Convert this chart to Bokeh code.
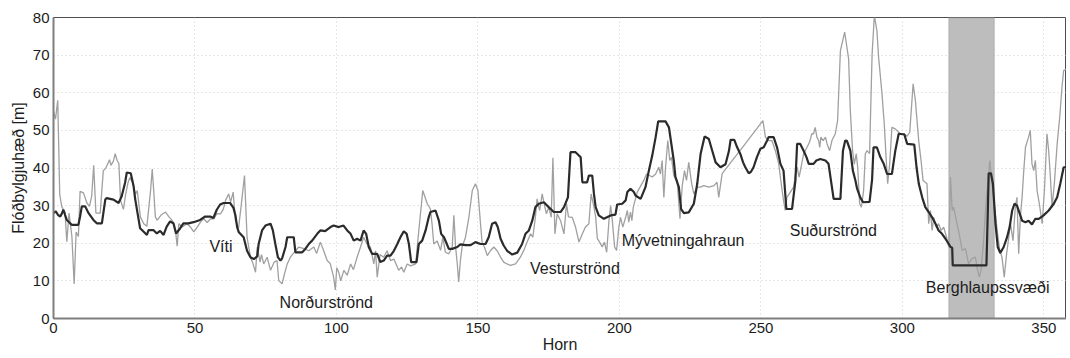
from bokeh.plotting import figure
from bokeh.models import BoxAnnotation, Range1d, FixedTicker
from bokeh.core.properties import value
from bokeh.embed import file_html
from bokeh.resources import INLINE

# ---------------- data ----------------
raw_angle = [
    0, 0.7, 1.5, 2.2, 2.9, 4.1, 4.7, 5.5, 6.5, 7.3,
    8, 8.8, 9.4, 10.6, 11.8, 12.7, 13.5, 14.2, 15, 16.5,
    17.6, 18.5, 19.8, 20.3, 21.2, 21.8, 22.5, 23.1, 23.7, 24.7,
    25.5, 26.3, 27, 28, 29, 29.6, 30.7, 31.9, 33, 34.3,
    34.9, 35.5, 36, 36.6, 38, 39.6, 40.8, 42, 43.1, 43.7,
    44.3, 45.5, 47.2, 48.4, 49.6, 50.8, 52, 53.1, 54.3, 55.5,
    56.7, 57.8, 59, 60, 60.8, 61.9, 62.6, 63.5, 64.3, 65.4,
    66.3, 67.5, 68.4, 69.6, 70.5, 71.4, 72, 73, 73.5, 74.3,
    75.5, 76.7, 78, 79, 79.6, 80.8, 81.5, 82.6, 83.7, 85,
    86.7, 88.5, 90.2, 92, 93, 94.3, 95.5, 96.7, 97.8, 99,
    99.6, 100.1, 100.8, 101.5, 102.6, 103.8, 105, 106, 107.3, 108.5,
    109.6, 110.8, 112, 113.2, 113.8, 114.4, 115.4, 116.7, 117.9, 119.1,
    120.3, 122, 123, 123.8, 125, 126.2, 128, 129.1, 130.5, 132.1,
    133.2, 133.8, 134.4, 135.6, 136.8, 137.6, 138.5, 139.7, 140.9, 141.5,
    142.1, 142.7, 143.2, 143.8, 144.4, 145.6, 146.8, 148, 149.1, 150,
    150.9, 151.5, 152.3, 153.3, 154.4, 155.6, 156.8, 158, 159.1, 160.3,
    161.5, 163.3, 165, 166.2, 167.4, 168.6, 169.4, 170.3, 170.9, 171.8,
    172.7, 173.4, 174.2, 175, 175.9, 176.5, 177.2, 178, 179.2, 180.4,
    181.3, 182, 183.3, 184.5, 185.7, 186.9, 188, 189.2, 190, 191,
    191.6, 192.2, 193, 193.9, 194.7, 195.5, 196.3, 196.9, 197.5, 198.3,
    199, 199.8, 200.4, 201.2, 202.2, 202.8, 203.3, 203.9, 204.4, 204.9,
    206.3, 208.6, 209.6, 211.6, 212.8, 213.9, 214.5, 215.1, 215.7, 216.3,
    217.1, 217.8, 218.4, 219.2, 220.4, 221.4, 222.2, 223, 223.7, 224.5,
    225.5, 226.3, 227.5, 228.7, 229.8, 231.6, 233.4, 234.5, 235.1, 236.3,
    243.5, 250.7, 251.6, 252.7, 253.9, 255.1, 256.3, 257.5, 258, 258.6,
    259.2, 260.4, 261.6, 262.2, 262.8, 263.5, 264.2, 265.1, 266.3, 267.2,
    268, 268.6, 269.2, 269.8, 270.4, 270.8, 271.2, 272, 272.8, 273.4,
    274.3, 275.1, 276.3, 277.1, 278.1, 279.6, 280.4, 281, 281.6, 282.4,
    283, 283.7, 284.2, 284.9, 285.5, 286.3, 286.9, 287.5, 288.4, 289.3,
    290.1, 291, 291.6, 292.8, 293.6, 294.3, 294.8, 295.5, 296.3, 297.5,
    298.7, 299.3, 300.7, 301.6, 302.6, 303.8, 304.6, 305.8, 306.6, 307.3,
    308.7, 309.3, 309.9, 310.5, 311.1, 312, 312.8, 313.7, 314.6, 315.6,
    316.4, 317, 317.6, 318.1, 319.3, 320.3, 321.1, 322.3, 323.4, 324.6,
    325.8, 326.4, 327.2, 327.8, 328.7, 329.7, 330.5, 330.9, 331.7, 332.5,
    333.5, 334.4, 335.2, 336, 336.8, 337.6, 338.2, 339.1, 339.9, 340.5,
    341.1, 341.7, 342.3, 342.9, 343.5, 344.6, 345.2, 345.8, 346.4, 347,
    347.6, 348.4, 349.4, 350.2, 351.1, 351.7, 352.3, 352.9, 353.7, 354.7,
    355.6, 356.4, 357, 358, 358.8, 359.4, 360,
]
raw_height = [
    55, 53, 58, 33, 29.8, 28, 20.4, 28, 21.8, 9.2,
    23, 21.8, 33.8, 33.4, 30.7, 29.8, 32.5, 40.7, 28, 28,
    39.3, 40, 42.2, 40.7, 41.9, 43.8, 42, 41.2, 31.4, 29,
    33, 36, 37.5, 36, 33, 34, 27, 25.2, 24.5, 34,
    39.7, 33, 27, 26.1, 27.5, 28.3, 27, 26, 23.5, 19.2,
    25.2, 24.3, 25.2, 24.3, 23, 24.3, 25.7, 26.5, 25.5, 26.5,
    26.5, 27.9, 27.8, 29, 31.4, 33.1, 31, 33.6, 26, 24,
    29.8, 38, 21.6, 16.3, 14.6, 12.3, 19, 15, 17, 14.5,
    16.3, 12.8, 15, 15.4, 10.1, 9.2, 11.5, 14.5, 16.3, 17.5,
    19, 18.6, 18, 19, 17.3, 20.3, 18, 15.4, 14.6, 11,
    7.6, 13.5, 12.3, 10, 12.8, 11.5, 14.5, 13, 16.3, 19,
    21.6, 19.8, 19, 14.5, 18, 11, 17, 16.3, 18, 15.4,
    15.8, 12.8, 13.7, 12.3, 14.5, 14, 14.5, 23.4, 34, 30.5,
    29.1, 25, 19.8, 20.6, 18.1, 21.6, 17.6, 17.2, 19, 27.4,
    19, 14.5, 9.7, 15.4, 19, 21.6, 26.9, 34, 35.8, 34,
    25.2, 20, 19, 16.7, 18, 19, 18, 16.3, 15, 14.5,
    14.1, 14.5, 16.3, 18.1, 20.3, 22.5, 21.6, 26.9, 31.8, 28.7,
    33.1, 30.5, 27.8, 29.6, 26.9, 42.7, 22.5, 27.8, 26, 22.5,
    30.5, 27, 26.9, 24.3, 20.3, 22.5, 24.3, 25.2, 33.1, 29.6,
    27, 21.2, 20.3, 19, 20.3, 17.6, 26, 30, 26, 19,
    18.1, 24.3, 26.9, 24.3, 26.9, 28.7, 25.6, 28.3, 26, 29.6,
    33.6, 36.7, 38.4, 37.6, 38.4, 40.2, 38.4, 42, 32.2, 40.2,
    47.3, 42, 42.9, 38, 36.7, 26.5, 35.3, 39.3, 36.7, 41.5,
    36, 33.1, 34.9, 34.9, 35.3, 34.9, 35.3, 36.2, 32.2, 38.5,
    45.5, 52.6, 48.2, 47.3, 47.3, 44.6, 41.1, 34, 31.4, 28.7,
    32.2, 33.6, 35, 38.4, 40.2, 37.6, 40.2, 43.8, 45.5, 46.9,
    49.1, 49.1, 50.8, 48.2, 47.3, 45.5, 48.2, 47.3, 48.2, 46.4,
    44.6, 47.3, 49.1, 52.6, 71.2, 76.1, 72.1, 69, 55.3, 44.6,
    41, 43.8, 40.2, 30.5, 29.6, 34, 43.8, 44.6, 43.8, 70.3,
    80.5, 76.5, 69.4, 59.7, 51.7, 42, 35.8, 41, 50.8, 50.4,
    49.5, 49.1, 49.1, 48.4, 49.5, 62.4, 57.9, 47, 42, 36.7,
    35.8, 25.2, 28.7, 23.4, 26.9, 24.3, 25.2, 23.4, 24.3, 21.6,
    19, 37.6, 28.7, 29.6, 25.2, 21.6, 18.1, 18.6, 14.5, 15.9,
    16.3, 13.6, 11, 12.8, 20.7, 32.2, 38.4, 42, 35.8, 30.5,
    23.4, 18.1, 16.3, 11, 17, 21.6, 25.2, 20.7, 29.6, 32.2,
    17.2, 27, 32.2, 39.3, 45.5, 48.2, 50, 41.1, 39.3, 42,
    34, 30.5, 25.2, 34, 49.1, 44.6, 37.6, 29.6, 35.8, 46.4,
    53.5, 61.5, 65.9, 66.3, 64.1, 59.7, 57.5,
]

smooth_angle = [
    0, 0.8, 1.6, 2.4, 3, 3.5, 4.1, 4.7, 5.9, 6.5,
    8.8, 9.4, 10, 11.2, 12.4, 14.1, 15.3, 17.1, 18.3, 18.8,
    21.2, 23, 24.1, 25.3, 25.9, 27.3, 28.3, 28.9, 29.7, 30.6,
    31.8, 33, 33.6, 35.3, 36.5, 37.7, 38.9, 40, 41.2, 42.4,
    43.3, 44.8, 45.9, 47.7, 49.5, 51.8, 53.6, 55.4, 56.5, 57.7,
    58.9, 60.1, 62.4, 63.6, 64.3, 64.9, 65.5, 67.2, 68.4, 69.6,
    70.8, 72, 72.5, 73.7, 74.9, 76.7, 77.5, 78.4, 79.3, 80.2,
    80.8, 82, 82.6, 84.9, 85.5, 87.9, 89, 90.2, 91.4, 93.2,
    94.3, 96, 97.9, 99, 100.8, 102.5, 103.8, 105, 106.1, 107.3,
    108.5, 109.6, 110.5, 111.4, 112.6, 114.4, 115.5, 116.7, 117.9, 119.1,
    120.3, 121.5, 122.6, 123.8, 124.8, 125.6, 126.4, 128.3, 129.1, 130.3,
    131.5, 132.6, 133.2, 135, 136.2, 137, 138, 138.9, 139.7, 140.9,
    142.7, 143.8, 145.6, 147.4, 149.1, 150.9, 152.7, 153.8, 155, 156.2,
    157, 158, 159.1, 160.3, 162.1, 163.9, 165.6, 166.8, 168, 169.2,
    170.3, 171.5, 173.3, 175, 176.8, 179.2, 180.4, 181.8, 182.7, 184.5,
    185.7, 186.3, 186.9, 188.6, 189.2, 190.4, 191, 191.6, 192.7, 194.5,
    196.9, 198.6, 199.2, 201, 202.2, 202.8, 203.9, 205.1, 205.7, 207.5,
    209.2, 210.4, 211.6, 212.8, 213.7, 216.3, 217.5, 218.1, 219.2, 219.8,
    221, 221.8, 222.8, 224.5, 226.3, 227.5, 228.7, 230.1, 231.6, 232.8,
    234, 235.7, 237.5, 238.7, 239.3, 240.6, 241.6, 242.7, 243.7, 244.5,
    245.7, 246.5, 247.4, 248.6, 249.8, 251, 252.2, 252.7, 254.5, 255.7,
    256.9, 258, 259, 261, 262.2, 262.8, 263.9, 265.1, 266.1, 266.9,
    268.6, 269.6, 271, 272.8, 273.9, 275.1, 275.7, 278.1, 279, 279.8,
    280.4, 281.6, 282.5, 283.4, 284, 285.1, 286.1, 288.4, 289.3, 289.8,
    291, 292.2, 293.4, 294.6, 296.3, 297.5, 298.7, 300.7, 301.7, 304.2,
    305, 305.8, 307, 308.1, 309.3, 310.5, 311.7, 312.8, 314, 315.2,
    316.4, 317, 317.6, 317.8, 329.7, 330.2, 330.5, 331.3, 332, 332.9,
    333.7, 334.6, 335.8, 337, 337.9, 338.8, 339.6, 340.5, 341.5, 342.3,
    343.5, 344.6, 345.8, 347, 348.2, 349.9, 351.7, 353.5, 354.7, 355.8,
    357, 358.2, 359.4, 360,
]
smooth_height = [
    28, 28.5, 27.5, 27.1, 28, 28.9, 27.5, 26.2, 25.3, 24.9,
    24.9, 27.1, 29.8, 29.8, 28, 26.2, 25.3, 25.3, 31.6, 32,
    31.6, 30.7, 32.5, 36.1, 38.8, 38.6, 35.2, 31.6, 28, 24,
    23.1, 22.2, 23.5, 23.5, 22.6, 23.3, 22.2, 24.4, 25.8, 25.3,
    22.6, 24, 25.3, 25.3, 25.6, 26.2, 27.1, 27.1, 26.7, 28.9,
    30.3, 30.7, 30.7, 29.4, 27.4, 24.3, 22.9, 21.6, 18, 16.3,
    15.8, 16.5, 19.8, 23.4, 24.7, 25.2, 23.5, 19.8, 16.3, 15.4,
    16, 19, 21.6, 21.6, 17.6, 17.6, 18.5, 19.8, 20.7, 22.5,
    23.4, 23.2, 24.3, 24.7, 24.3, 24.7, 23.4, 22.5, 20.7, 21.2,
    20.7, 23.4, 22.5, 19, 17.2, 17.2, 15, 15.4, 16.7, 16.7,
    18, 19.8, 21.6, 23.2, 22.5, 19.8, 15, 15, 19.8, 20.7,
    23.4, 26.9, 28.3, 28.7, 26, 22.5, 21.6, 20, 18.5, 18.5,
    19, 19.7, 19.5, 19.5, 20.3, 19.8, 19.8, 21.6, 25.2, 25.6,
    24.3, 21.2, 19.4, 18, 17, 17.5, 19.8, 22.5, 23.4, 26,
    29.6, 30.5, 30.9, 29.6, 28.3, 28.3, 29.6, 32.2, 44.2, 44.2,
    43.3, 42.9, 36.2, 36.2, 38, 38, 33.1, 29.6, 27.4, 26.5,
    27.4, 27.6, 30.3, 30.5, 31.4, 33.6, 34.5, 33.6, 32.7, 31.8,
    34.9, 39.3, 43.3, 48.2, 52.4, 52.4, 50.8, 47.7, 42, 37.6,
    34.9, 29.1, 28, 28.2, 30.5, 35.8, 43.8, 48.4, 47.7, 44.6,
    41.5, 40.2, 41, 44.5, 47.5, 47.5, 45.5, 43.8, 41.5, 40.2,
    38.6, 39, 40.2, 42.9, 45.1, 45.5, 47.3, 48.2, 48.2, 45.5,
    41.1, 39.3, 29.1, 29.1, 36.7, 46.4, 46.4, 44.6, 42.9, 41.1,
    41.1, 42, 42.4, 42, 41.1, 34.9, 31.8, 31.8, 44.6, 47.3,
    47.2, 44.6, 39.3, 36.7, 34.5, 32.2, 30.9, 31, 37, 45.5,
    45.5, 42.9, 41.1, 38.4, 38.4, 44.6, 49.1, 48.9, 46.4, 46.2,
    40.2, 35.8, 32.2, 29.6, 28.3, 26.9, 25.2, 23.4, 22.5, 21.2,
    19.8, 19, 18.8, 14.1, 14.1, 28.7, 38.6, 38.6, 35.8, 25.2,
    19, 17.4, 19, 21.6, 24.3, 28.7, 30.5, 30, 27.8, 26,
    25.6, 26, 25, 26.5, 26.5, 27.4, 28.7, 30.5, 32.2, 35.8,
    40.2, 40.2, 37.6, 34,
]

slide_zone = (316.4, 332.5)  # shaded angle interval

region_names = ["Víti", "Norðurströnd", "Vesturströnd", "Mývetningahraun",
                "Suðurströnd", "Berghlaupssvæði"]
region_x = [55.1, 79.9, 168.4, 200.8, 260.2, 308.3]
region_y = [19.1, 4.3, 13.2, 20.7, 23.4, 8.3]

x_ticks = [0, 50, 100, 150, 200, 250, 300, 350]
y_ticks = [0, 10, 20, 30, 40, 50, 60, 70, 80]
x_label = "Horn"
y_label = "Flóðbylgjuhæð [m]"

# ---------------- figure ----------------
FONT = "Liberation Sans"

p = figure(width=1066, height=358, x_range=Range1d(0, 358), y_range=Range1d(0, 80),
           output_backend="svg", toolbar_location=None,
           min_border_left=53, min_border_right=0, min_border_top=17, min_border_bottom=40)
p.background_fill_color = "white"
p.border_fill_color = "white"
p.outline_line_color = "#4d4d4d"
p.outline_line_width = 1

shade = BoxAnnotation(left=slide_zone[0], right=slide_zone[1], fill_color="#bdbdbd",
                      fill_alpha=1.0, line_color="#8f8f8f", line_width=1.5, level="underlay")
p.add_layout(shade)

p.line(raw_angle, raw_height, line_color="#a0a0a0", line_width=1.3)
p.line(smooth_angle, smooth_height, line_color="#2b2b2b", line_width=2.2)

p.text(x=region_x, y=region_y, text=region_names, text_font=value(FONT),
       text_font_size="16px", text_color="#1c1c1c", text_align="left", text_baseline="middle")

p.xaxis.ticker = FixedTicker(ticks=x_ticks)
p.yaxis.ticker = FixedTicker(ticks=y_ticks)
p.xgrid.ticker = FixedTicker(ticks=x_ticks)
p.ygrid.ticker = FixedTicker(ticks=y_ticks)
p.grid.grid_line_color = "#cfcfcf"
p.grid.grid_line_dash = "1 3"
p.grid.grid_line_width = 1

for ax in (p.xaxis[0], p.yaxis[0]):
    ax.axis_line_color = "#7f7f7f"
    ax.axis_line_width = 2
    ax.major_tick_line_color = None
    ax.minor_tick_line_color = None
    ax.major_tick_out = 0
    ax.major_tick_in = 0
    ax.minor_tick_out = 0
    ax.major_label_text_font = FONT
    ax.major_label_text_font_size = "15px"
    ax.major_label_text_color = "#1c1c1c"
    ax.major_label_standoff = 4
    ax.axis_label_text_font = FONT
    ax.axis_label_text_font_size = "16px"
    ax.axis_label_text_font_style = "normal"
    ax.axis_label_text_color = "#1c1c1c"

p.xaxis.axis_label = x_label
p.xaxis.axis_label_standoff = 0
p.yaxis.axis_label = y_label
p.yaxis.axis_label_standoff = 3

open("out.html", "w").write(file_html(p, INLINE))
